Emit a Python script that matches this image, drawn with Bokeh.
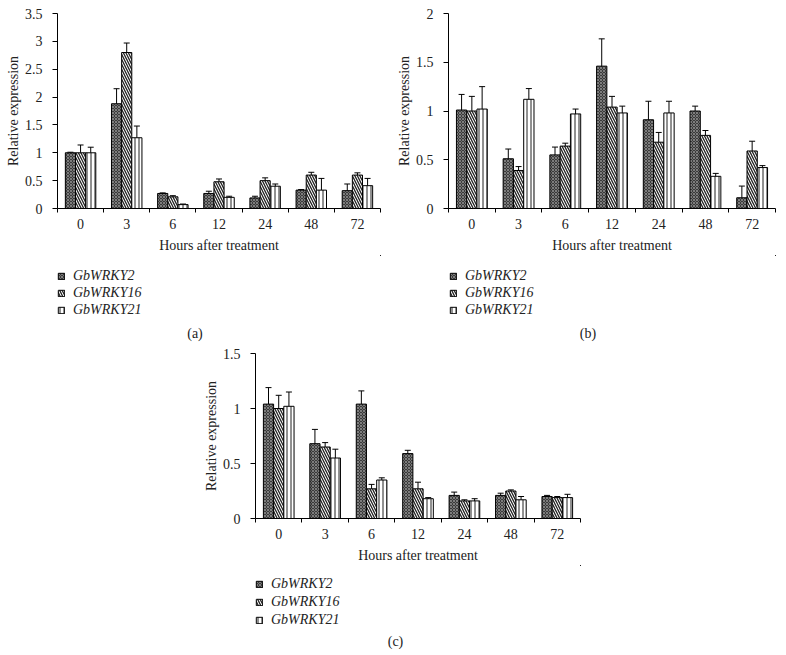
from bokeh.plotting import figure
from bokeh.layouts import column, row
from bokeh.models import (ColumnDataSource, Range1d, FixedTicker, NumeralTickFormatter,
                          CustomJSTickFormatter, Whisker, TeeHead, Legend, LegendItem, Label, Spacer)
from bokeh.embed import file_html
from bokeh.resources import INLINE

hours = ["0", "3", "6", "12", "24", "48", "72"]
genes = ["GbWRKY2", "GbWRKY16", "GbWRKY21"]

a_wrky2 = [1.00, 1.88, 0.27, 0.27, 0.19, 0.33, 0.32]
a_wrky2_err = [0.01, 0.27, 0.01, 0.04, 0.03, 0.01, 0.12]
a_wrky16 = [1.00, 2.80, 0.21, 0.48, 0.50, 0.60, 0.60]
a_wrky16_err = [0.14, 0.17, 0.02, 0.05, 0.05, 0.05, 0.04]
a_wrky21 = [1.00, 1.27, 0.07, 0.20, 0.40, 0.33, 0.41]
a_wrky21_err = [0.10, 0.21, 0.01, 0.02, 0.04, 0.21, 0.13]

b_wrky2 = [1.01, 0.51, 0.55, 1.46, 0.91, 1.00, 0.11]
b_wrky2_err = [0.16, 0.10, 0.08, 0.28, 0.19, 0.05, 0.12]
b_wrky16 = [1.00, 0.39, 0.64, 1.04, 0.68, 0.75, 0.59]
b_wrky16_err = [0.15, 0.04, 0.03, 0.11, 0.10, 0.05, 0.10]
b_wrky21 = [1.02, 1.12, 0.97, 0.98, 0.98, 0.33, 0.42]
b_wrky21_err = [0.23, 0.11, 0.05, 0.07, 0.12, 0.03, 0.02]

c_wrky2 = [1.04, 0.68, 1.04, 0.59, 0.21, 0.21, 0.20]
c_wrky2_err = [0.15, 0.13, 0.12, 0.03, 0.03, 0.02, 0.01]
c_wrky16 = [1.00, 0.65, 0.27, 0.27, 0.16, 0.25, 0.19]
c_wrky16_err = [0.12, 0.04, 0.04, 0.06, 0.01, 0.01, 0.01]
c_wrky21 = [1.02, 0.55, 0.35, 0.18, 0.16, 0.17, 0.19]
c_wrky21_err = [0.13, 0.08, 0.02, 0.01, 0.02, 0.03, 0.03]

a_ticks = [0, 0.5, 1, 1.5, 2, 2.5, 3, 3.5]
b_ticks = [0, 0.5, 1, 1.5, 2]
c_ticks = [0, 0.5, 1, 1.5]

FONT = "Liberation Serif"
TEXT = "#222222"
STYLES = [
    dict(fill_color="#3a3a3a", hatch_pattern="diagonal_cross", hatch_color="#9a9a9a",
         hatch_scale=3, hatch_weight=0.7),
    dict(fill_color="white", hatch_pattern="left_diagonal_line", hatch_color="#222222",
         hatch_scale=5, hatch_weight=1.3),
    dict(fill_color="white", hatch_pattern="vertical_line", hatch_color="#222222",
         hatch_scale=4, hatch_weight=1.0),
]


def make_panel(series, errs, ticks, tag, width, bl, br, bt, frame_h,
               leg_h, leg_x, leg_y, pitch, tag_dx, tag_y):
    n = len(hours)
    bb = 42
    p = figure(width=width, height=bt + frame_h + bb, output_backend="svg", toolbar_location=None,
               x_range=Range1d(0, n), y_range=Range1d(ticks[0], ticks[-1]),
               min_border_left=bl, min_border_right=br, min_border_top=bt, min_border_bottom=bb)
    p.outline_line_color = None
    p.xgrid.visible = False
    p.ygrid.visible = False

    # companion figure below the chart that carries the legend and the panel tag;
    # its ranges keep its own copies of the bars out of view, so only the legend shows
    q = figure(width=width, height=leg_h, output_backend="svg", toolbar_location=None,
               x_range=Range1d(-3 * n, -2 * n), y_range=Range1d(-2, -1),
               x_axis_location=None, y_axis_location=None,
               min_border_left=bl, min_border_right=br, min_border_top=0, min_border_bottom=0)
    q.outline_line_color = None
    q.xgrid.visible = False
    q.ygrid.visible = False

    bw = 0.22
    offsets = [-bw, 0.0, bw]
    items = []
    for k, (vals, er) in enumerate(zip(series, errs)):
        xs = [i + 0.5 + offsets[k] for i in range(n)]
        src = ColumnDataSource(dict(x=xs, top=vals,
                                    lo=[v - e for v, e in zip(vals, er)],
                                    hi=[v + e for v, e in zip(vals, er)]))
        p.vbar(x="x", top="top", bottom=0, width=bw, source=src,
               line_color="black", line_width=1, **STYLES[k])
        w = Whisker(base="x", lower="lo", upper="hi", source=src, line_color="black", line_width=1,
                    upper_head=TeeHead(size=6, line_color="black", line_width=1),
                    lower_head=TeeHead(size=6, line_color="black", line_width=1))
        p.add_layout(w)
        rq = q.vbar(x="x", top="top", bottom=0, width=bw, source=src,
                    line_color="black", line_width=1, **STYLES[k])
        items.append(LegendItem(label=genes[k], renderers=[rq]))

    xa = p.xaxis[0]
    xa.ticker = FixedTicker(ticks=[i + 0.5 for i in range(n)], minor_ticks=list(range(n + 1)))
    xa.formatter = CustomJSTickFormatter(args=dict(labels=hours), code="return labels[Math.floor(tick)];")
    xa.major_tick_in = 0
    xa.major_tick_out = 0
    xa.minor_tick_in = 0
    xa.minor_tick_out = 4
    xa.minor_tick_line_color = "black"
    xa.major_label_standoff = 6
    xa.axis_label = "Hours after treatment"
    xa.axis_label_standoff = 6

    ya = p.yaxis[0]
    ya.ticker = FixedTicker(ticks=ticks, minor_ticks=[])
    ya.formatter = NumeralTickFormatter(format="0.[0]")
    ya.major_tick_in = 0
    ya.major_tick_out = 5
    ya.minor_tick_out = 0
    ya.minor_tick_in = 0
    ya.axis_label = "Relative expression"
    ya.axis_label_standoff = 1
    ya.major_label_standoff = 10

    for ax in (xa, ya):
        ax.major_label_text_font = FONT
        ax.major_label_text_font_size = "14px"
        ax.major_label_text_color = TEXT
        ax.axis_label_text_font = FONT
        ax.axis_label_text_font_size = "14px"
        ax.axis_label_text_font_style = "normal"
        ax.axis_label_text_color = TEXT
        ax.axis_line_color = "black"
        ax.major_tick_line_color = "black"

    leg = Legend(items=items, location=(leg_x, leg_y), orientation="vertical",
                 margin=0, padding=0, spacing=pitch - 17, label_standoff=8,
                 glyph_width=8, glyph_height=8, label_height=17,
                 label_text_font=FONT, label_text_font_size="14px",
                 label_text_font_style="italic", label_text_color=TEXT,
                 border_line_color=None, background_fill_alpha=0)
    q.add_layout(leg, "center")
    frame_w = width - bl - br
    q.add_layout(Label(x=frame_w / 2 - tag_dx, y=tag_y, x_units="screen", y_units="screen", text=tag,
                       text_align="center", text_baseline="middle", text_font=FONT,
                       text_font_size="14px", text_color=TEXT))
    return column(p, q, spacing=0)


pa = make_panel([a_wrky2, a_wrky16, a_wrky21], [a_wrky2_err, a_wrky16_err, a_wrky21_err],
                a_ticks, "(a)", 392, 57, 12, 13, 200, 88, 0, 25, 17, 24, 10)
pb = make_panel([b_wrky2, b_wrky16, b_wrky21], [b_wrky2_err, b_wrky16_err, b_wrky21_err],
                b_ticks, "(b)", 390, 56, 7, 13, 200, 88, 1, 25, 17, 24, 10)
pc = make_panel([c_wrky2, c_wrky16, c_wrky21], [c_wrky2_err, c_wrky16_err, c_wrky21_err],
                c_ticks, "(c)", 400, 52, 20, 10, 170, 84, 0, 21, 18, 24, 8)

layout = column(row(pa, pb, spacing=0), row(Spacer(width=200, height=10), pc, spacing=0), spacing=0)
open("out.html", "w").write(file_html(layout, INLINE))
